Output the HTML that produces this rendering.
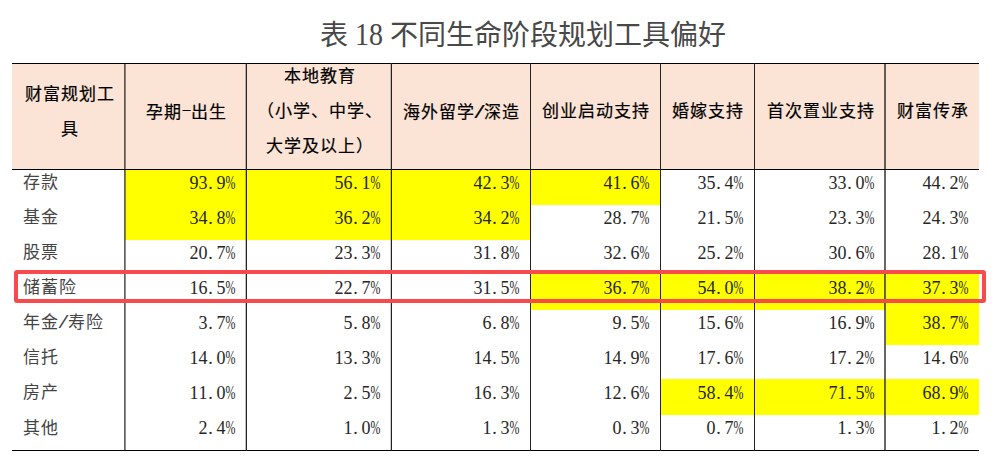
<!DOCTYPE html>
<html lang="zh-CN"><head><meta charset="utf-8"><title>表18 不同生命阶段规划工具偏好</title>
<style>
html,body{margin:0;padding:0;background:#fff;}
body{width:996px;height:456px;position:relative;overflow:hidden;font-family:"Liberation Serif",serif;color:#000;}
.a{position:absolute;}
.t{position:absolute;white-space:nowrap;font-size:17px;letter-spacing:1px;line-height:20px;height:20px;}
.h{font-weight:normal;text-align:center;color:#000;-webkit-text-stroke:0.2px #000;}
.n{text-align:right;font-size:18px;letter-spacing:0;color:#262626;}
.lb{color:#444;}
.y{position:absolute;background:#ffff00;}
.v{position:absolute;top:63px;height:388px;width:1px;background:#222;}
.hl{position:absolute;left:12px;width:967px;height:1px;background:#000;}
i{font-style:normal;display:inline-block;width:9px;text-align:center;font-size:18px;letter-spacing:0;}
i.p{text-align:left;text-indent:0.7px;}
i b{font-weight:inherit;display:inline-block;width:15px;margin-left:-2.8px;text-align:center;transform:scaleX(0.66);}
i b.s{width:9px;margin-left:0;}
i b.s{transform:scaleX(2.0);}
.d{display:inline-block;transform-origin:50% 85%;transform:translateY(0.3px) scaleY(1.13);}
</style></head><body>

<div class="a" style="left:320px;top:21px;font-size:28px;line-height:30px;white-space:nowrap;color:#484848;">表 <span class="d">18</span> 不同生命阶段规划工具偏好</div>
<div class="a" style="left:12px;top:63px;width:967px;height:106px;background:#fbe4d5;"></div>
<div class="y" style="left:125px;top:170px;width:121px;height:35px;"></div>
<div class="y" style="left:247px;top:170px;width:144px;height:35px;"></div>
<div class="y" style="left:392px;top:170px;width:138px;height:35px;"></div>
<div class="y" style="left:531px;top:170px;width:129px;height:35px;"></div>
<div class="y" style="left:125px;top:205px;width:121px;height:35px;"></div>
<div class="y" style="left:247px;top:205px;width:144px;height:35px;"></div>
<div class="y" style="left:392px;top:205px;width:138px;height:35px;"></div>
<div class="y" style="left:531px;top:274px;width:129px;height:36px;"></div>
<div class="y" style="left:661px;top:274px;width:93px;height:36px;"></div>
<div class="y" style="left:755px;top:274px;width:130px;height:36px;"></div>
<div class="y" style="left:886px;top:274px;width:93px;height:36px;"></div>
<div class="y" style="left:886px;top:310px;width:93px;height:35px;"></div>
<div class="y" style="left:661px;top:379px;width:93px;height:36px;"></div>
<div class="y" style="left:755px;top:379px;width:130px;height:36px;"></div>
<div class="y" style="left:886px;top:379px;width:93px;height:36px;"></div>
<div class="hl" style="top:63px"></div>
<div class="hl" style="top:169px"></div>
<div class="hl" style="top:450px"></div>
<div class="v" style="left:124px;background:rgba(0,0,0,0.62)"></div>
<div class="v" style="left:125px;background:rgba(0,0,0,0.45)"></div>
<div class="v" style="left:245px;background:rgba(0,0,0,0.25)"></div>
<div class="v" style="left:246px;background:#222"></div>
<div class="v" style="left:390px;background:rgba(0,0,0,0.2)"></div>
<div class="v" style="left:391px;background:#222"></div>
<div class="v" style="left:530px"></div>
<div class="v" style="left:660px"></div>
<div class="v" style="left:754px"></div>
<div class="v" style="left:884px;background:rgba(0,0,0,0.6)"></div>
<div class="v" style="left:885px;background:rgba(0,0,0,0.6)"></div>
<div class="t h" style="left:13px;width:113px;top:84.5px;">财富规划工</div>
<div class="t h" style="left:13px;width:113px;top:119.5px;">具</div>
<div class="t h" style="left:126px;width:121px;top:101.5px;">孕期<i class="c" style="position:relative;top:-3px;left:0px;transform:scaleX(0.85)">&#8211;</i>出生</div>
<div class="t h" style="left:247px;width:145px;top:67.0px;">本地教育</div>
<div class="t h" style="left:247px;width:145px;top:102.0px;">（小学、中学、</div>
<div class="t h" style="left:247px;width:145px;top:137.0px;">大学及以上）</div>
<div class="t h" style="left:392px;width:139px;top:101.5px;">海外留学<i class="c"><b class="s">/</b></i>深造</div>
<div class="t h" style="left:531px;width:130px;top:101.5px;">创业启动支持</div>
<div class="t h" style="left:661px;width:94px;top:101.5px;">婚嫁支持</div>
<div class="t h" style="left:755px;width:131px;top:101.5px;">首次置业支持</div>
<div class="t h" style="left:886px;width:94px;top:101.5px;">财富传承</div>
<div class="t lb" style="left:23px;top:173.0px;">存款</div>
<div class="t n" style="left:125px;width:109.5px;top:173px;"><i class="c">9</i><i class="c">3</i><i class="p">.</i><i class="c">9</i><i class="c"><b>%</b></i></div>
<div class="t n" style="left:246px;width:133.5px;top:173px;"><i class="c">5</i><i class="c">6</i><i class="p">.</i><i class="c">1</i><i class="c"><b>%</b></i></div>
<div class="t n" style="left:391px;width:127.5px;top:173px;"><i class="c">4</i><i class="c">2</i><i class="p">.</i><i class="c">3</i><i class="c"><b>%</b></i></div>
<div class="t n" style="left:530px;width:118.5px;top:173px;"><i class="c">4</i><i class="c">1</i><i class="p">.</i><i class="c">6</i><i class="c"><b>%</b></i></div>
<div class="t n" style="left:660px;width:82.5px;top:173px;"><i class="c">3</i><i class="c">5</i><i class="p">.</i><i class="c">4</i><i class="c"><b>%</b></i></div>
<div class="t n" style="left:754px;width:119.5px;top:173px;"><i class="c">3</i><i class="c">3</i><i class="p">.</i><i class="c">0</i><i class="c"><b>%</b></i></div>
<div class="t n" style="left:885px;width:82.5px;top:173px;"><i class="c">4</i><i class="c">4</i><i class="p">.</i><i class="c">2</i><i class="c"><b>%</b></i></div>
<div class="t lb" style="left:23px;top:208.0px;">基金</div>
<div class="t n" style="left:125px;width:109.5px;top:208px;"><i class="c">3</i><i class="c">4</i><i class="p">.</i><i class="c">8</i><i class="c"><b>%</b></i></div>
<div class="t n" style="left:246px;width:133.5px;top:208px;"><i class="c">3</i><i class="c">6</i><i class="p">.</i><i class="c">2</i><i class="c"><b>%</b></i></div>
<div class="t n" style="left:391px;width:127.5px;top:208px;"><i class="c">3</i><i class="c">4</i><i class="p">.</i><i class="c">2</i><i class="c"><b>%</b></i></div>
<div class="t n" style="left:530px;width:118.5px;top:208px;"><i class="c">2</i><i class="c">8</i><i class="p">.</i><i class="c">7</i><i class="c"><b>%</b></i></div>
<div class="t n" style="left:660px;width:82.5px;top:208px;"><i class="c">2</i><i class="c">1</i><i class="p">.</i><i class="c">5</i><i class="c"><b>%</b></i></div>
<div class="t n" style="left:754px;width:119.5px;top:208px;"><i class="c">2</i><i class="c">3</i><i class="p">.</i><i class="c">3</i><i class="c"><b>%</b></i></div>
<div class="t n" style="left:885px;width:82.5px;top:208px;"><i class="c">2</i><i class="c">4</i><i class="p">.</i><i class="c">3</i><i class="c"><b>%</b></i></div>
<div class="t lb" style="left:23px;top:243.0px;">股票</div>
<div class="t n" style="left:125px;width:109.5px;top:243px;"><i class="c">2</i><i class="c">0</i><i class="p">.</i><i class="c">7</i><i class="c"><b>%</b></i></div>
<div class="t n" style="left:246px;width:133.5px;top:243px;"><i class="c">2</i><i class="c">3</i><i class="p">.</i><i class="c">3</i><i class="c"><b>%</b></i></div>
<div class="t n" style="left:391px;width:127.5px;top:243px;"><i class="c">3</i><i class="c">1</i><i class="p">.</i><i class="c">8</i><i class="c"><b>%</b></i></div>
<div class="t n" style="left:530px;width:118.5px;top:243px;"><i class="c">3</i><i class="c">2</i><i class="p">.</i><i class="c">6</i><i class="c"><b>%</b></i></div>
<div class="t n" style="left:660px;width:82.5px;top:243px;"><i class="c">2</i><i class="c">5</i><i class="p">.</i><i class="c">2</i><i class="c"><b>%</b></i></div>
<div class="t n" style="left:754px;width:119.5px;top:243px;"><i class="c">3</i><i class="c">0</i><i class="p">.</i><i class="c">6</i><i class="c"><b>%</b></i></div>
<div class="t n" style="left:885px;width:82.5px;top:243px;"><i class="c">2</i><i class="c">8</i><i class="p">.</i><i class="c">1</i><i class="c"><b>%</b></i></div>
<div class="t lb" style="left:23px;top:278.0px;">储蓄险</div>
<div class="t n" style="left:125px;width:109.5px;top:278px;"><i class="c">1</i><i class="c">6</i><i class="p">.</i><i class="c">5</i><i class="c"><b>%</b></i></div>
<div class="t n" style="left:246px;width:133.5px;top:278px;"><i class="c">2</i><i class="c">2</i><i class="p">.</i><i class="c">7</i><i class="c"><b>%</b></i></div>
<div class="t n" style="left:391px;width:127.5px;top:278px;"><i class="c">3</i><i class="c">1</i><i class="p">.</i><i class="c">5</i><i class="c"><b>%</b></i></div>
<div class="t n" style="left:530px;width:118.5px;top:278px;"><i class="c">3</i><i class="c">6</i><i class="p">.</i><i class="c">7</i><i class="c"><b>%</b></i></div>
<div class="t n" style="left:660px;width:82.5px;top:278px;"><i class="c">5</i><i class="c">4</i><i class="p">.</i><i class="c">0</i><i class="c"><b>%</b></i></div>
<div class="t n" style="left:754px;width:119.5px;top:278px;"><i class="c">3</i><i class="c">8</i><i class="p">.</i><i class="c">2</i><i class="c"><b>%</b></i></div>
<div class="t n" style="left:885px;width:82.5px;top:278px;"><i class="c">3</i><i class="c">7</i><i class="p">.</i><i class="c">3</i><i class="c"><b>%</b></i></div>
<div class="t lb" style="left:23px;top:312.0px;">年金<i class="c"><b class="s">/</b></i>寿险</div>
<div class="t n" style="left:125px;width:109.5px;top:313px;"><i class="c">3</i><i class="p">.</i><i class="c">7</i><i class="c"><b>%</b></i></div>
<div class="t n" style="left:246px;width:133.5px;top:313px;"><i class="c">5</i><i class="p">.</i><i class="c">8</i><i class="c"><b>%</b></i></div>
<div class="t n" style="left:391px;width:127.5px;top:313px;"><i class="c">6</i><i class="p">.</i><i class="c">8</i><i class="c"><b>%</b></i></div>
<div class="t n" style="left:530px;width:118.5px;top:313px;"><i class="c">9</i><i class="p">.</i><i class="c">5</i><i class="c"><b>%</b></i></div>
<div class="t n" style="left:660px;width:82.5px;top:313px;"><i class="c">1</i><i class="c">5</i><i class="p">.</i><i class="c">6</i><i class="c"><b>%</b></i></div>
<div class="t n" style="left:754px;width:119.5px;top:313px;"><i class="c">1</i><i class="c">6</i><i class="p">.</i><i class="c">9</i><i class="c"><b>%</b></i></div>
<div class="t n" style="left:885px;width:82.5px;top:313px;"><i class="c">3</i><i class="c">8</i><i class="p">.</i><i class="c">7</i><i class="c"><b>%</b></i></div>
<div class="t lb" style="left:23px;top:348.0px;">信托</div>
<div class="t n" style="left:125px;width:109.5px;top:348px;"><i class="c">1</i><i class="c">4</i><i class="p">.</i><i class="c">0</i><i class="c"><b>%</b></i></div>
<div class="t n" style="left:246px;width:133.5px;top:348px;"><i class="c">1</i><i class="c">3</i><i class="p">.</i><i class="c">3</i><i class="c"><b>%</b></i></div>
<div class="t n" style="left:391px;width:127.5px;top:348px;"><i class="c">1</i><i class="c">4</i><i class="p">.</i><i class="c">5</i><i class="c"><b>%</b></i></div>
<div class="t n" style="left:530px;width:118.5px;top:348px;"><i class="c">1</i><i class="c">4</i><i class="p">.</i><i class="c">9</i><i class="c"><b>%</b></i></div>
<div class="t n" style="left:660px;width:82.5px;top:348px;"><i class="c">1</i><i class="c">7</i><i class="p">.</i><i class="c">6</i><i class="c"><b>%</b></i></div>
<div class="t n" style="left:754px;width:119.5px;top:348px;"><i class="c">1</i><i class="c">7</i><i class="p">.</i><i class="c">2</i><i class="c"><b>%</b></i></div>
<div class="t n" style="left:885px;width:82.5px;top:348px;"><i class="c">1</i><i class="c">4</i><i class="p">.</i><i class="c">6</i><i class="c"><b>%</b></i></div>
<div class="t lb" style="left:23px;top:383.0px;">房产</div>
<div class="t n" style="left:125px;width:109.5px;top:383px;"><i class="c">1</i><i class="c">1</i><i class="p">.</i><i class="c">0</i><i class="c"><b>%</b></i></div>
<div class="t n" style="left:246px;width:133.5px;top:383px;"><i class="c">2</i><i class="p">.</i><i class="c">5</i><i class="c"><b>%</b></i></div>
<div class="t n" style="left:391px;width:127.5px;top:383px;"><i class="c">1</i><i class="c">6</i><i class="p">.</i><i class="c">3</i><i class="c"><b>%</b></i></div>
<div class="t n" style="left:530px;width:118.5px;top:383px;"><i class="c">1</i><i class="c">2</i><i class="p">.</i><i class="c">6</i><i class="c"><b>%</b></i></div>
<div class="t n" style="left:660px;width:82.5px;top:383px;"><i class="c">5</i><i class="c">8</i><i class="p">.</i><i class="c">4</i><i class="c"><b>%</b></i></div>
<div class="t n" style="left:754px;width:119.5px;top:383px;"><i class="c">7</i><i class="c">1</i><i class="p">.</i><i class="c">5</i><i class="c"><b>%</b></i></div>
<div class="t n" style="left:885px;width:82.5px;top:383px;"><i class="c">6</i><i class="c">8</i><i class="p">.</i><i class="c">9</i><i class="c"><b>%</b></i></div>
<div class="t lb" style="left:23px;top:418.5px;">其他</div>
<div class="t n" style="left:125px;width:109.5px;top:418px;"><i class="c">2</i><i class="p">.</i><i class="c">4</i><i class="c"><b>%</b></i></div>
<div class="t n" style="left:246px;width:133.5px;top:418px;"><i class="c">1</i><i class="p">.</i><i class="c">0</i><i class="c"><b>%</b></i></div>
<div class="t n" style="left:391px;width:127.5px;top:418px;"><i class="c">1</i><i class="p">.</i><i class="c">3</i><i class="c"><b>%</b></i></div>
<div class="t n" style="left:530px;width:118.5px;top:418px;"><i class="c">0</i><i class="p">.</i><i class="c">3</i><i class="c"><b>%</b></i></div>
<div class="t n" style="left:660px;width:82.5px;top:418px;"><i class="c">0</i><i class="p">.</i><i class="c">7</i><i class="c"><b>%</b></i></div>
<div class="t n" style="left:754px;width:119.5px;top:418px;"><i class="c">1</i><i class="p">.</i><i class="c">3</i><i class="c"><b>%</b></i></div>
<div class="t n" style="left:885px;width:82.5px;top:418px;"><i class="c">1</i><i class="p">.</i><i class="c">2</i><i class="c"><b>%</b></i></div>
<div class="a" style="left:14px;top:270px;width:972px;height:33px;border:4px solid #f64a4c;border-radius:3px;box-sizing:border-box;"></div>
</body></html>
